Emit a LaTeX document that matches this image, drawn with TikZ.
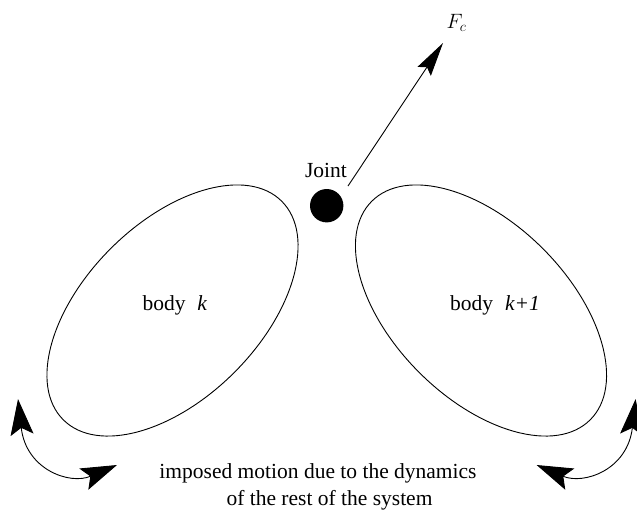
\documentclass[tikz,border=0pt]{standalone}
\usepackage{fontspec}
\setmainfont{Liberation Serif}
\usetikzlibrary{arrows.meta,shapes.geometric}
\begin{document}
\begin{tikzpicture}[x=1pt,y=-1pt,
  txt/.style={font=\fontsize{21.5}{25}\selectfont, inner sep=0pt},
  body/.style={ellipse, draw, line width=0.9pt, minimum width=309pt, minimum height=175pt, inner sep=0pt, outer sep=0pt},
  forcearrow/.style={line width=0.9pt, -{Stealth[length=34pt,width=16pt,inset=5pt]}},
  motion/.style={line width=0.9pt, {Stealth[length=36pt,width=23pt,inset=7pt]}-{Stealth[length=36pt,width=23pt,inset=7pt]}}]
\useasboundingbox (0,0) rectangle (637,512);
\clip (0,0) rectangle (637,512);
% bodies
\node[body, rotate=45] (bk) at (172.5,310.5) {};
\node[body, rotate=-45] (bk1) at (481,310.5) {};
\node[txt, anchor=base] (lk) at (175,310) {body\hspace{0.55em}\textit{k}};
\node[txt, anchor=base] (lk1) at (495,310) {body\hspace{0.55em}\textit{k+1}};
% joint
\node[circle, fill=black, minimum size=33.4pt, inner sep=0pt] (J) at (326.7,205.7) {};
\node[txt, anchor=base] (jl) at (326,177) {Joint};
% force
\coordinate (fs) at (348,186);
\coordinate (ft) at (443,43);
\draw[forcearrow] (fs) -- (ft);
\node[txt, anchor=base] (fc) at (456.5,28) {$F_c$};
% imposed motion arrows
\coordinate (a1) at (18,399);
\coordinate (a2) at (117,465);
\draw[motion] (a1) .. controls (26,470) and (70,485) .. (a2);
\coordinate (b1) at (635.6,399);
\coordinate (b2) at (536.6,465);
\draw[motion] (b1) .. controls (627.6,470) and (583.6,485) .. (b2);
% caption
\node[txt, anchor=base] (c1) at (318,478) {imposed motion due to the dynamics};
\node[txt, anchor=base] (c2) at (329.5,505) {of the rest of the system};
\end{tikzpicture}
\end{document}
